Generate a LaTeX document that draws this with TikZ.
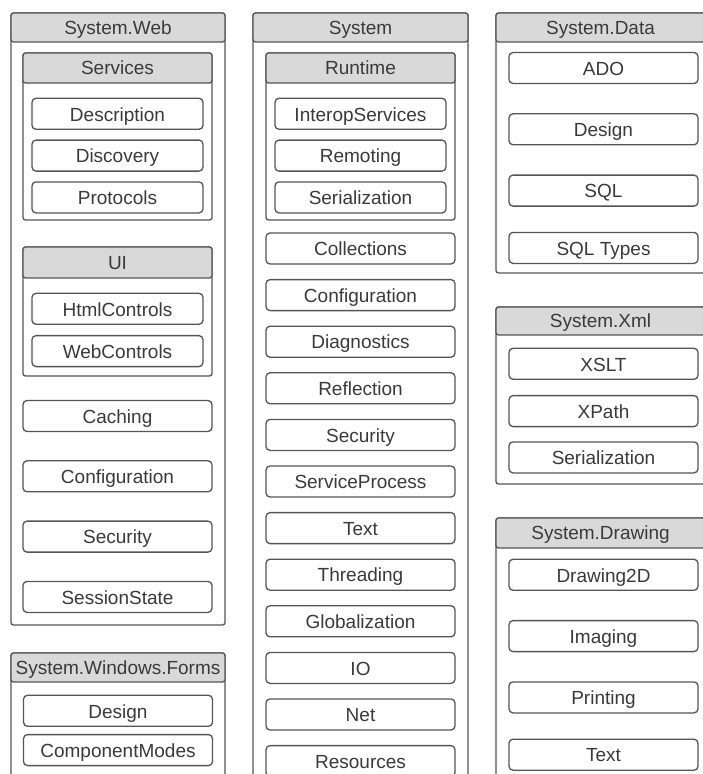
\documentclass[tikz,border=0pt]{standalone}
\usepackage{fontspec}
\setmainfont{Liberation Sans}
\usepackage{tikz}
\usetikzlibrary{positioning}
\usepackage{xcolor}
\definecolor{linegray}{HTML}{555555}
\definecolor{hdrgray}{HTML}{D9D9D9}
\definecolor{txtgray}{HTML}{3A3A3A}
\tikzstyle{pkg} = [rectangle, rounded corners=2.5pt, draw=linegray, line width=1.3pt, fill=white, inner sep=0pt]
\tikzstyle{pkghdr} = [rectangle, rounded corners=2.5pt, draw=linegray, line width=1.3pt, fill=hdrgray, inner sep=0pt, anchor=north, text height=16pt, text depth=2.5pt]
\tikzstyle{item} = [rectangle, rounded corners=4pt, draw=linegray, line width=1.3pt, fill=white, inner sep=0pt, minimum height=31pt, text height=17pt, text depth=2.5pt]

\begin{document}
\begin{tikzpicture}[x=1pt, y=-1pt, every node/.style={font=\fontsize{19}{22}\selectfont, text=txtgray}]
    \useasboundingbox (0,0) rectangle (703,774);
    \clip (0,0) rectangle (703,774);

    % System.Web
    \node (web) [pkg, minimum width=214pt, minimum height=612pt] at (118,319) {};
    \node (webhdr) [pkghdr, minimum width=214pt, minimum height=29pt] at (web.north) {System.Web};
    \node (svc) [pkg, minimum width=189pt, minimum height=167pt] at (117.5,136.5) {};
    \node (svchdr) [pkghdr, minimum width=189pt, minimum height=30pt] at (svc.north) {Services};
    \node (desc) [item, minimum width=171pt, below=14pt of svchdr] {Description};
    \node (disco) [item, minimum width=171pt, below=9.5pt of desc] {Discovery};
    \node (proto) [item, minimum width=171pt, below=9.5pt of disco] {Protocols};
    \node (ui) [pkg, minimum width=189pt, minimum height=129pt] at (117.5,311.5) {};
    \node (uihdr) [pkghdr, minimum width=189pt, minimum height=31pt] at (ui.north) {UI};
    \node (html) [item, minimum width=171pt, below=14pt of uihdr] {HtmlControls};
    \node (webctl) [item, minimum width=171pt, below=10pt of html] {WebControls};
    \node (caching) [item, minimum width=189pt] at (117.5,416) {Caching};
    \node (webcfg) [item, minimum width=189pt, below=28pt of caching] {Configuration};
    \node (websec) [item, minimum width=189pt, below=28pt of webcfg] {Security};
    \node (session) [item, minimum width=189pt, below=28pt of websec] {SessionState};

    % System.Windows.Forms
    \node (forms) [pkg, minimum width=214pt, minimum height=147pt] at (118,726.5) {};
    \node (formshdr) [pkghdr, minimum width=214pt, minimum height=29pt] at (forms.north) {System.Windows.Forms};
    \node (fdesign) [item, minimum width=189pt, below=12pt of formshdr] {Design};
    \node (compmod) [item, minimum width=189pt, below=7pt of fdesign] {ComponentModes};

    % System
    \node (sys) [pkg, minimum width=215pt, minimum height=787pt] at (360.5,406.5) {};
    \node (syshdr) [pkghdr, minimum width=215pt, minimum height=29pt] at (sys.north) {System};
    \node (rt) [pkg, minimum width=189pt, minimum height=167pt] at (360.5,136.5) {};
    \node (rthdr) [pkghdr, minimum width=189pt, minimum height=30pt] at (rt.north) {Runtime};
    \node (interop) [item, minimum width=171pt, below=14pt of rthdr] {InteropServices};
    \node (remoting) [item, minimum width=171pt, below=9.5pt of interop] {Remoting};
    \node (rtser) [item, minimum width=171pt, below=9.5pt of remoting] {Serialization};
    \node (coll) [item, minimum width=189pt] at (360.5,248.5) {Collections};
    \node (syscfg) [item, minimum width=189pt, below=14.3pt of coll] {Configuration};
    \node (diag) [item, minimum width=189pt, below=14.3pt of syscfg] {Diagnostics};
    \node (refl) [item, minimum width=189pt, below=14.3pt of diag] {Reflection};
    \node (syssec) [item, minimum width=189pt, below=14.3pt of refl] {Security};
    \node (svcproc) [item, minimum width=189pt, below=14.3pt of syssec] {ServiceProcess};
    \node (systext) [item, minimum width=189pt, below=14.3pt of svcproc] {Text};
    \node (thread) [item, minimum width=189pt, below=14.3pt of systext] {Threading};
    \node (glob) [item, minimum width=189pt, below=14.3pt of thread] {Globalization};
    \node (io) [item, minimum width=189pt, below=14.3pt of glob] {IO};
    \node (net) [item, minimum width=189pt, below=14.3pt of io] {Net};
    \node (res) [item, minimum width=189pt, below=14.3pt of net] {Resources};

    % System.Data
    \node (data) [pkg, minimum width=209pt, minimum height=260pt] at (600.5,143) {};
    \node (datahdr) [pkghdr, minimum width=209pt, minimum height=29pt] at (data.north) {System.Data};
    \node (ado) [item, minimum width=189pt] at (603.5,68) {ADO};
    \node (ddesign) [item, minimum width=189pt, below=29pt of ado] {Design};
    \node (sql) [item, minimum width=189pt, below=29pt of ddesign] {SQL};
    \node (sqltypes) [item, minimum width=189pt, below=25pt of sql] {SQL Types};

    % System.Xml
    \node (xml) [pkg, minimum width=209pt, minimum height=177pt] at (600.5,395.5) {};
    \node (xmlhdr) [pkghdr, minimum width=209pt, minimum height=28pt] at (xml.north) {System.Xml};
    \node (xslt) [item, minimum width=189pt, below=12pt of xmlhdr, xshift=3pt] {XSLT};
    \node (xpath) [item, minimum width=189pt, below=15pt of xslt] {XPath};
    \node (xmlser) [item, minimum width=189pt, below=14pt of xpath] {Serialization};

    % System.Drawing
    \node (drw) [pkg, minimum width=209pt, minimum height=282pt] at (600.5,659) {};
    \node (drwhdr) [pkghdr, minimum width=209pt, minimum height=30pt] at (drw.north) {System.Drawing};
    \node (d2d) [item, minimum width=189pt, below=10pt of drwhdr, xshift=3pt] {Drawing2D};
    \node (imaging) [item, minimum width=189pt, below=29pt of d2d] {Imaging};
    \node (printing) [item, minimum width=189pt, below=29pt of imaging] {Printing};
    \node (drwtext) [item, minimum width=189pt, below=25pt of printing] {Text};
\end{tikzpicture}
\end{document}
